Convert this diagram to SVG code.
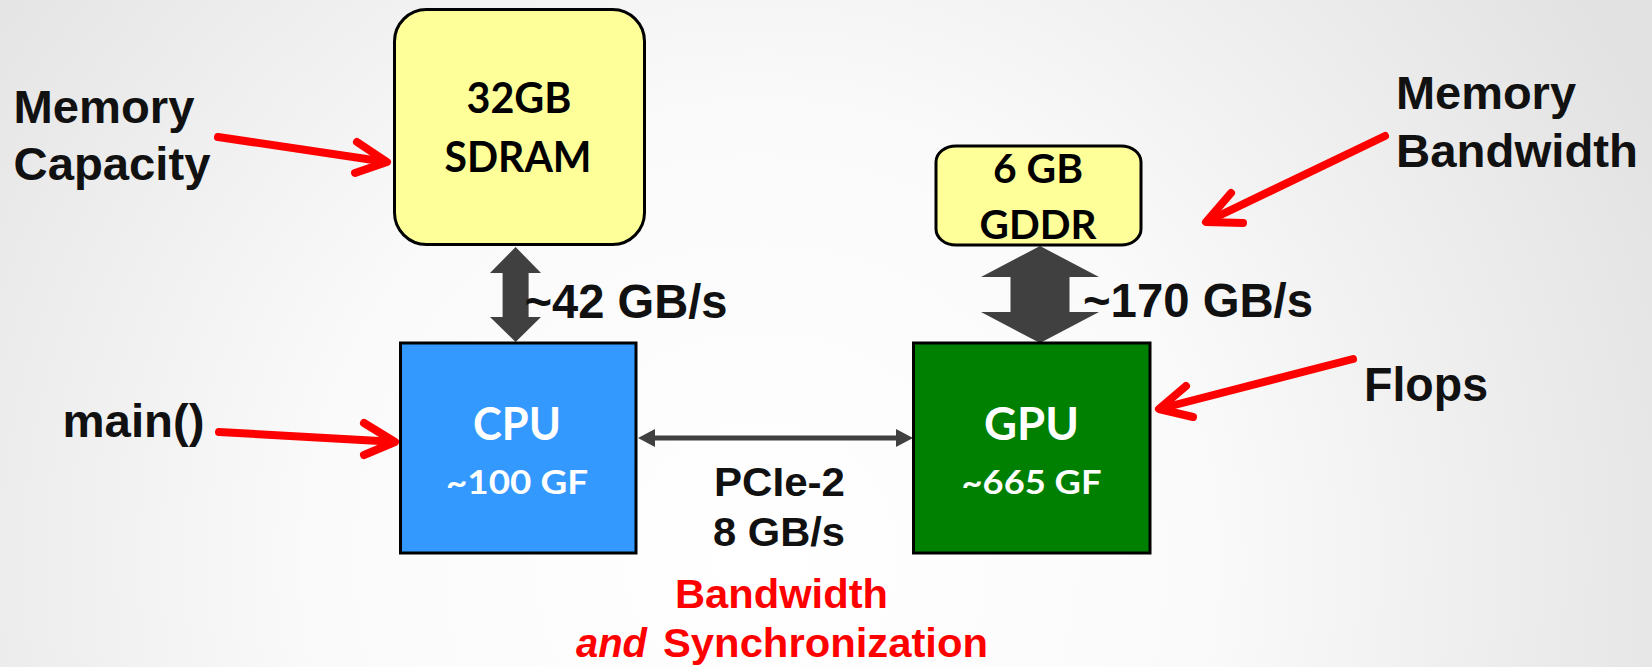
<svg xmlns="http://www.w3.org/2000/svg" width="1652" height="667" viewBox="0 0 1652 667">
<defs>
<radialGradient id="bg" cx="760" cy="560" r="1000" gradientUnits="userSpaceOnUse">
<stop offset="0" stop-color="#ffffff"/>
<stop offset="0.45" stop-color="#fafafa"/>
<stop offset="1" stop-color="#e2e2e2"/>
</radialGradient>
<style>
.box{stroke:#000;stroke-width:3}
.mem{fill:#ffff99}
.cpu{fill:#3399ff}
.gpu{fill:#008000}
.bt{font-family:Lato,"Open Sans",sans-serif;font-weight:bold;text-anchor:middle}
.dark{fill:#000}
.white{fill:#fff}
.lbl{font-family:"Liberation Sans",Arial,sans-serif;font-weight:bold;fill:#111}
.red{fill:#ff0000}
.ra{stroke:#ff0000;stroke-width:8;fill:none;stroke-linecap:round;stroke-linejoin:round}
.ga{fill:#404040}
</style>
</defs>
<rect width="1652" height="667" fill="url(#bg)"/>

<g id="connectors">
<polygon class="ga" points="515.6,247 541,273 528.6,273 528.6,317 541,317 515.6,342 490,317 502.6,317 502.6,273 490,273"/>
<polygon class="ga" points="1040,246 1099,277 1069.5,277 1069.5,312 1099,312 1040,343 981,312 1010.5,312 1010.5,277 981,277"/>
<line x1="650" y1="438" x2="901" y2="438" stroke="#404040" stroke-width="5"/>
<polygon class="ga" points="638,438 655,429 655,447"/>
<polygon class="ga" points="913,438 896,429 896,447"/>
<g id="arrow-capacity"><line class="ra" stroke-linecap="butt" x1="218" y1="137" x2="385" y2="161.7"/><polyline class="ra" points="357,142 387,162 355,173"/></g>
<g id="arrow-main"><line class="ra" stroke-linecap="butt" x1="219" y1="432" x2="393" y2="441.8"/><polyline class="ra" points="364,423 395,442 364,455"/></g>
<g id="arrow-flops"><line class="ra" stroke-linecap="butt" x1="1353" y1="359" x2="1161" y2="408.5"/><polyline class="ra" points="1186,386 1159,409 1193,417"/></g>
<g id="arrow-bandwidth"><line class="ra" stroke-linecap="butt" x1="1385" y1="136" x2="1208" y2="221"/><polyline class="ra" points="1231,193 1206,222 1243,223"/></g>
</g>

<g id="sdram">
<rect class="box mem" x="394.5" y="9.5" width="250" height="235" rx="32" ry="32"/>
<text class="bt dark" x="519" y="113" font-size="42" textLength="105" lengthAdjust="spacingAndGlyphs">32GB</text>
<text class="bt dark" x="518" y="172" font-size="42" textLength="147" lengthAdjust="spacingAndGlyphs">SDRAM</text>
</g>

<g id="gddr">
<rect class="box mem" x="936" y="146" width="205" height="99" rx="20" ry="16"/>
<text class="bt dark" x="1038" y="183" font-size="40" textLength="90" lengthAdjust="spacingAndGlyphs">6 GB</text>
<text class="bt dark" x="1038" y="239" font-size="40" textLength="117" lengthAdjust="spacingAndGlyphs">GDDR</text>
</g>

<g id="cpu">
<rect class="box cpu" x="400.5" y="343" width="235.5" height="210"/>
<text class="bt white" x="517" y="440" font-size="46" textLength="88" lengthAdjust="spacingAndGlyphs">CPU</text>
<text class="bt white" x="517" y="494" font-size="33" textLength="142" lengthAdjust="spacingAndGlyphs">~100 GF</text>
</g>

<g id="gpu">
<rect class="box gpu" x="913.5" y="343" width="236.5" height="210"/>
<text class="bt white" x="1031.5" y="440" font-size="46" textLength="95" lengthAdjust="spacingAndGlyphs">GPU</text>
<text class="bt white" x="1031.5" y="494" font-size="33" textLength="140" lengthAdjust="spacingAndGlyphs">~665 GF</text>
</g>

<g id="labels">
<text class="lbl" x="13.5" y="123" font-size="47" textLength="181" lengthAdjust="spacingAndGlyphs">Memory</text>
<text class="lbl" x="13.5" y="180" font-size="47" textLength="197" lengthAdjust="spacingAndGlyphs">Capacity</text>
<text class="lbl" x="524.5" y="318" font-size="48" textLength="203" lengthAdjust="spacingAndGlyphs">~42 GB/s</text>
<text class="lbl" x="62.5" y="437" font-size="46" textLength="142" lengthAdjust="spacingAndGlyphs">main()</text>
<text class="lbl" x="714" y="496" font-size="41" textLength="131" lengthAdjust="spacingAndGlyphs">PCIe-2</text>
<text class="lbl" x="713" y="546" font-size="41" textLength="132" lengthAdjust="spacingAndGlyphs">8 GB/s</text>
<text class="lbl red" x="675" y="608" font-size="41" textLength="213" lengthAdjust="spacingAndGlyphs">Bandwidth</text>
<text class="lbl red" x="576" y="657" font-size="41"><tspan font-style="italic" textLength="71" lengthAdjust="spacingAndGlyphs">and</tspan><tspan x="663" textLength="325" lengthAdjust="spacingAndGlyphs">Synchronization</tspan></text>
<text class="lbl" x="1364" y="401" font-size="48" textLength="124" lengthAdjust="spacingAndGlyphs">Flops</text>
<text class="lbl" x="1083" y="317" font-size="48" textLength="230" lengthAdjust="spacingAndGlyphs">~170 GB/s</text>
<text class="lbl" x="1396" y="109" font-size="47" textLength="180" lengthAdjust="spacingAndGlyphs">Memory</text>
<text class="lbl" x="1396" y="167" font-size="47" textLength="242" lengthAdjust="spacingAndGlyphs">Bandwidth</text>
</g>
</svg>
